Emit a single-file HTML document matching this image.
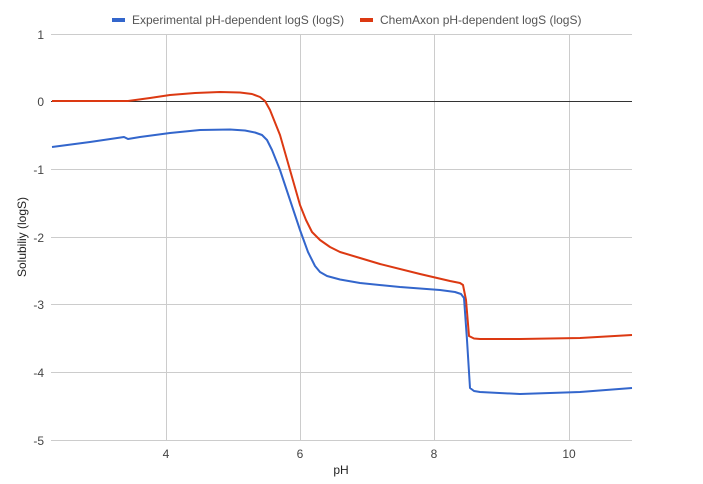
<!DOCTYPE html>
<html><head><style>
html,body{margin:0;padding:0;background:#fff;}
svg{display:block;font-family:"Liberation Sans",Arial,sans-serif;}
</style></head><body>
<svg width="703" height="484" viewBox="0 0 703 484">
<rect width="703" height="484" fill="#fff"/>
<g stroke="#ccc" stroke-width="1">
<line x1="51" y1="34.5" x2="632" y2="34.5"/>
<line x1="51" y1="169.5" x2="632" y2="169.5"/>
<line x1="51" y1="237.5" x2="632" y2="237.5"/>
<line x1="51" y1="304.5" x2="632" y2="304.5"/>
<line x1="51" y1="372.5" x2="632" y2="372.5"/>
<line x1="51" y1="440.5" x2="632" y2="440.5"/>
<line x1="166.5" y1="34" x2="166.5" y2="440"/>
<line x1="300.5" y1="34" x2="300.5" y2="440"/>
<line x1="434.5" y1="34" x2="434.5" y2="440"/>
<line x1="569.5" y1="34" x2="569.5" y2="440"/>
</g>
<line x1="51" y1="101.5" x2="632" y2="101.5" stroke="#333" stroke-width="1"/>
<g font-size="12" fill="#444" text-anchor="end">
<text x="44" y="39">1</text><text x="44" y="106">0</text><text x="44" y="174">-1</text>
<text x="44" y="242">-2</text><text x="44" y="309">-3</text><text x="44" y="377">-4</text><text x="44" y="445">-5</text>
</g>
<g font-size="12" fill="#444" text-anchor="middle">
<text x="166" y="458">4</text><text x="300" y="458">6</text><text x="434" y="458">8</text><text x="569" y="458">10</text>
<text x="341" y="474" fill="#222">pH</text>
<text transform="translate(26,237) rotate(-90)" fill="#222">Solubiliy (logS)</text>
</g>
<g stroke-linejoin="round" fill="none" stroke-width="2">
<polyline stroke="#dc3912" points="52,101 128,101 150,98 170,95 195,93 220,92 240,92.5 252,94 260,97 265,101 270,110 280,135 290,170 300,205 306,220 312,232 320,240 330,247 340,252 360,258 380,264 420,274 450,281 460,283 463,285 466,300 469,336 474,338.5 480,339 520,339 580,338 632,335"/>
<polyline stroke="#3366cc" points="52,147 90,142 124,137 128,139 140,137 170,133 200,130 230,129.5 245,130.5 255,132.5 262,135 267,140 272,150 280,170 290,200 300,230 308,252 315,266 320,272 327,276 340,279.5 360,283 400,287 440,290 455,292 461,294 464,298 467,340 470,388 474,391 480,392 520,394 580,392 632,388"/>
</g>
<rect x="112" y="18" width="13" height="4" fill="#3366cc"/>
<text x="132" y="24" font-size="12" fill="#555">Experimental pH-dependent logS (logS)</text>
<rect x="360" y="18" width="13" height="4" fill="#dc3912"/>
<text x="380" y="24" font-size="12" fill="#555">ChemAxon pH-dependent logS (logS)</text>
</svg>
</body></html>
